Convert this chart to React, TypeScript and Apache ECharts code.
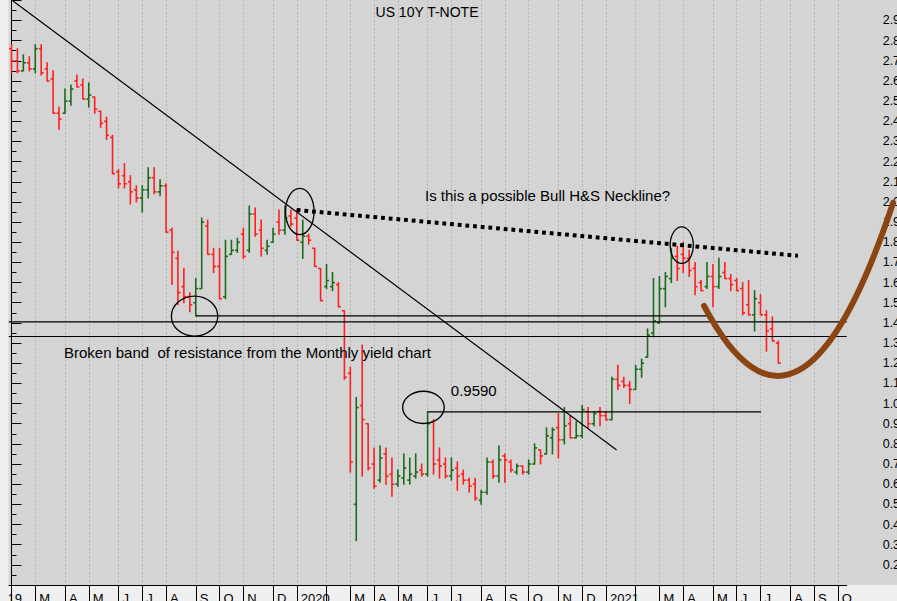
import React, { useEffect, useRef } from "react";
import * as echarts from "echarts";

// ---------------- DATA ----------------
const FIRST_WEEK = "2019-02-01"; // weekly bars, dated by Friday
const WEEK_COUNT = 141; // axis runs to 2021-10-08
const MONTH_INITIALS = ["J", "F", "M", "A", "M", "J", "J", "A", "S", "O", "N", "D"];

const OPEN = [
  2.76, 2.70, 2.65, 2.69, 2.66, 2.76, 2.66, 2.61, 2.44, 2.44,
  2.50, 2.60, 2.58, 2.51, 2.52, 2.45, 2.40, 2.32, 2.15, 2.13,
  2.10, 2.06, 2.02, 2.06, 2.12, 2.05, 2.08, 1.86, 1.72, 1.58,
  1.53, 1.50, 1.57, 1.88, 1.74, 1.68, 1.53, 1.74, 1.76, 1.84,
  1.76, 1.94, 1.86, 1.76, 1.80, 1.90, 1.86, 1.93, 1.92, 1.80,
  1.83, 1.77, 1.67, 1.58, 1.58, 1.59, 1.46, 1.15, 0.50, 0.99,
  0.90, 0.70, 0.62, 0.75, 0.65, 0.60, 0.63, 0.62, 0.64, 0.67,
  0.65, 0.91, 0.72, 0.70, 0.64, 0.68, 0.65, 0.62, 0.60, 0.52,
  0.56, 0.71, 0.64, 0.74, 0.71, 0.66, 0.69, 0.66, 0.70, 0.77,
  0.75, 0.83, 0.88, 0.82, 0.90, 0.83, 0.84, 0.96, 0.90, 0.96,
  0.94, 0.92, 1.12, 1.11, 1.09, 1.07, 1.17, 1.23, 1.35, 1.40,
  1.57, 1.62, 1.73, 1.74, 1.72, 1.67, 1.60, 1.58, 1.63, 1.58,
  1.65, 1.62, 1.61, 1.57, 1.49, 1.44, 1.50, 1.44, 1.37, 1.30,
];
const HIGH = [
  2.78, 2.76, 2.73, 2.72, 2.78, 2.78, 2.69, 2.65, 2.47, 2.56,
  2.58, 2.63, 2.61, 2.59, 2.52, 2.45, 2.42, 2.33, 2.16, 2.19,
  2.13, 2.08, 2.08, 2.17, 2.17, 2.11, 2.09, 1.87, 1.755, 1.67,
  1.55, 1.62, 1.92, 1.91, 1.77, 1.77, 1.81, 1.81, 1.82, 1.87,
  1.98, 1.97, 1.91, 1.81, 1.87, 1.96, 1.98, 1.96, 1.96, 1.91,
  1.84, 1.77, 1.67, 1.69, 1.65, 1.60, 1.46, 1.18, 1.03, 1.29,
  0.90, 0.78, 0.79, 0.78, 0.73, 0.67, 0.75, 0.73, 0.75, 0.70,
  0.959, 0.92, 0.78, 0.73, 0.73, 0.71, 0.67, 0.63, 0.63, 0.57,
  0.73, 0.72, 0.79, 0.75, 0.72, 0.70, 0.69, 0.72, 0.80, 0.77,
  0.88, 0.88, 0.95, 0.98, 0.94, 0.91, 0.99, 0.98, 0.96, 0.98,
  0.96, 1.13, 1.19, 1.13, 1.11, 1.19, 1.22, 1.37, 1.62, 1.63,
  1.65, 1.77, 1.78, 1.80, 1.76, 1.70, 1.61, 1.70, 1.69, 1.72,
  1.70, 1.64, 1.62, 1.60, 1.61, 1.56, 1.54, 1.46, 1.43, 1.31,
];
const LOW = [
  2.64, 2.64, 2.65, 2.65, 2.64, 2.63, 2.60, 2.44, 2.36, 2.44,
  2.48, 2.57, 2.51, 2.47, 2.44, 2.37, 2.31, 2.14, 2.07, 2.07,
  1.99, 2.00, 1.95, 2.02, 2.04, 2.03, 1.85, 1.59, 1.49, 1.50,
  1.455, 1.435, 1.57, 1.74, 1.65, 1.52, 1.52, 1.74, 1.75, 1.72,
  1.75, 1.83, 1.73, 1.74, 1.80, 1.84, 1.84, 1.88, 1.81, 1.72,
  1.79, 1.68, 1.51, 1.57, 1.56, 1.48, 1.12, 0.66, 0.32, 0.64,
  0.67, 0.58, 0.61, 0.60, 0.54, 0.59, 0.60, 0.60, 0.63, 0.64,
  0.64, 0.65, 0.63, 0.63, 0.62, 0.57, 0.60, 0.56, 0.52, 0.50,
  0.55, 0.63, 0.61, 0.61, 0.66, 0.65, 0.65, 0.65, 0.70, 0.70,
  0.75, 0.75, 0.73, 0.80, 0.83, 0.83, 0.83, 0.88, 0.89, 0.89,
  0.92, 0.92, 1.07, 1.08, 1.00, 1.07, 1.13, 1.23, 1.33, 1.40,
  1.48, 1.60, 1.61, 1.65, 1.63, 1.54, 1.56, 1.57, 1.48, 1.57,
  1.62, 1.56, 1.56, 1.44, 1.44, 1.36, 1.44, 1.26, 1.31, 1.20,
];
const CLOSE = [
  2.70, 2.65, 2.69, 2.66, 2.76, 2.64, 2.60, 2.44, 2.41, 2.50,
  2.56, 2.57, 2.51, 2.53, 2.46, 2.39, 2.33, 2.14, 2.09, 2.09,
  2.05, 2.02, 2.06, 2.12, 2.05, 2.08, 1.85, 1.75, 1.55, 1.53,
  1.49, 1.57, 1.90, 1.74, 1.68, 1.52, 1.73, 1.76, 1.80, 1.73,
  1.94, 1.84, 1.77, 1.78, 1.84, 1.86, 1.92, 1.89, 1.81, 1.83,
  1.81, 1.68, 1.51, 1.61, 1.60, 1.48, 1.13, 0.71, 0.98, 0.92,
  0.68, 0.59, 0.73, 0.64, 0.60, 0.64, 0.68, 0.65, 0.66, 0.65,
  0.90, 0.70, 0.69, 0.64, 0.67, 0.64, 0.62, 0.59, 0.53, 0.56,
  0.71, 0.64, 0.72, 0.72, 0.67, 0.69, 0.66, 0.70, 0.78, 0.74,
  0.84, 0.87, 0.82, 0.89, 0.83, 0.84, 0.97, 0.90, 0.95, 0.94,
  0.92, 1.12, 1.09, 1.09, 1.07, 1.17, 1.20, 1.34, 1.41, 1.57,
  1.63, 1.72, 1.67, 1.72, 1.66, 1.58, 1.56, 1.63, 1.58, 1.63,
  1.62, 1.59, 1.56, 1.45, 1.44, 1.52, 1.44, 1.36, 1.31, 1.20,
];

// Y axis range (yield, %)
const Y_MIN = 0.1;
const Y_MAX = 3.0;
const Y_STEP = 0.1;

// ---------------- ANNOTATIONS (week index, yield) ----------------
const TREND_LINE = [[0.26, 2.997], [101.8, 0.77]];
const NECKLINE = [[47.98, 1.96], [132.3, 1.733]];
const SUPPORT_LINE = [[31, 1.435], [117.6, 1.435]];
const BAND_LEVELS = [1.405, 1.3325];
const LEVEL_0959 = [[70, 0.959], [126.1, 0.959]];
const ELLIPSES = [
  [46.1, 2.067, 50.9, 1.838],
  [26.9, 1.533, 34.7, 1.334],
  [65.8, 1.061, 72.8, 0.901],
  [110.8, 1.876, 114.7, 1.695],
];
const BOWL = [[116.5, 1.484], [132.5, 0.591], [148.3, 1.995]];
const NOTES = [
  { text: "Is this a possible Bull H&S Neckline?", at: [69.56, 2.03] },
  { text: "Broken band  of resistance from the Monthly yield chart", at: [8.84, 1.251] },
  { text: "0.9590", at: [73.9, 1.067] },
];
const TITLE = "US 10Y T-NOTE";

// ---------------- STYLES ----------------
const FONT = '"Liberation Sans", Arial, Helvetica, sans-serif';
const RED = "#ff1f1f";
const GREEN = "#1c6b1c";
const BROWN = "#8B4513";

const weekDates: string[] = Array.from({ length: WEEK_COUNT }, (_, i) => {
  const base = Date.parse(FIRST_WEEK + "T00:00:00Z");
  return new Date(base + i * 7 * 86400000).toISOString().slice(0, 10);
});

const isMonthStart = (i: number) => parseInt(weekDates[i].slice(8, 10), 10) <= 7;
const monthLabel = (i: number) => {
  if (!isMonthStart(i)) return "";
  const m = parseInt(weekDates[i].slice(5, 7), 10);
  if (m === 1) return weekDates[i].slice(0, 4);
  if (m === 2) return "";
  return MONTH_INITIALS[m - 1];
};

function buildOption() {
  const bars = OPEN.map((o, i) => [i, o, HIGH[i], LOW[i], CLOSE[i]]);
  const tickInterval = (index: number) => isMonthStart(index);

  const ohlcSeries = {
    type: "custom",
    xAxisIndex: 1,
    yAxisIndex: 0,
    silent: true,
    z: 3,
    encode: { x: 0, y: [1, 2, 3, 4] },
    data: bars,
    renderItem: (params: any, api: any) => {
      const i = api.value(0);
      const o = api.value(1);
      const h = api.value(2);
      const l = api.value(3);
      const c = api.value(4);
      const pH = api.coord([i, h]);
      const pL = api.coord([i, l]);
      const pO = api.coord([i, o]);
      const pC = api.coord([i, c]);
      const half = api.size([1, 0])[0] * 0.42;
      const style = { stroke: c >= o ? GREEN : RED, lineWidth: 1.6, fill: "none" };
      return {
        type: "group",
        children: [
          { type: "line", shape: { x1: pH[0], y1: pH[1] - 0.5, x2: pL[0], y2: pL[1] + 0.5 }, style },
          { type: "line", shape: { x1: pO[0] - half, y1: pO[1], x2: pO[0], y2: pO[1] }, style },
          { type: "line", shape: { x1: pC[0], y1: pC[1], x2: pC[0] + half, y2: pC[1] }, style },
        ],
      };
    },
  };

  const annotationSeries = {
    type: "custom",
    xAxisIndex: 1,
    yAxisIndex: 0,
    silent: true,
    clip: false,
    z: 6,
    encode: { x: 0, y: 1 },
    data: [[0, 1.5]],
    renderItem: (params: any, api: any) => {
      const P = (p: number[]) => api.coord(p);
      const thin = { stroke: "#000", lineWidth: 1.2, fill: "none" };
      const seg = (a: number[], b: number[], style: any) => {
        const A = P(a);
        const B = P(b);
        return { type: "line", shape: { x1: A[0], y1: A[1], x2: B[0], y2: B[1] }, style };
      };
      const children: any[] = [];
      children.push(seg(TREND_LINE[0], TREND_LINE[1], thin));
      children.push(seg(SUPPORT_LINE[0], SUPPORT_LINE[1], thin));
      BAND_LEVELS.forEach((v) => children.push(seg([-0.5, v], [WEEK_COUNT - 0.5, v], thin)));
      children.push(seg(LEVEL_0959[0], LEVEL_0959[1], thin));
      ELLIPSES.forEach((e) => {
        const A = P([e[0], e[1]]);
        const B = P([e[2], e[3]]);
        children.push({
          type: "ellipse",
          shape: { cx: (A[0] + B[0]) / 2, cy: (A[1] + B[1]) / 2, rx: Math.abs(B[0] - A[0]) / 2, ry: Math.abs(B[1] - A[1]) / 2 },
          style: { stroke: "#000", lineWidth: 1.3, fill: "rgba(0,0,0,0)" },
        });
      });
      children.push(
        seg(NECKLINE[0], NECKLINE[1], { stroke: "#000", lineWidth: 4, lineDash: [3.8, 3.9], lineCap: "butt", fill: "none" })
      );
      NOTES.forEach((n) => {
        const p = P(n.at);
        children.push({
          type: "text",
          x: p[0],
          y: p[1],
          style: {
            text: n.text,
            fill: "#000",
            fontSize: 15,
            fontFamily: FONT,
            textAlign: "left",
            align: "left",
            textVerticalAlign: "middle",
            verticalAlign: "middle",
          },
        });
      });
      const b0 = P(BOWL[0]);
      const b1 = P(BOWL[1]);
      const b2 = P(BOWL[2]);
      children.push({
        type: "bezierCurve",
        shape: { x1: b0[0], y1: b0[1], cpx1: b1[0], cpy1: b1[1], x2: b2[0], y2: b2[1] },
        style: { stroke: BROWN, lineWidth: 6, lineCap: "round", fill: "none" },
      });
      return { type: "group", children };
    },
  };

  return {
    animation: false,
    backgroundColor: "#d4d4d4",
    grid: { left: 8.5, right: 50.3, top: 0.3, bottom: 16, containLabel: false, outerBoundsMode: "none" },
    xAxis: [
      {
        type: "category",
        data: weekDates,
        boundaryGap: true,
        axisLine: { show: true, lineStyle: { color: "#000", width: 1 } },
        axisTick: { show: true, alignWithLabel: true, interval: tickInterval, length: 16, lineStyle: { color: "#000", width: 1 } },
        axisLabel: {
          interval: tickInterval,
          formatter: (_v: string, i: number) => monthLabel(i),
          align: "left",
          padding: [0, 0, 0, 4],
          margin: 7,
          color: "#000",
          fontSize: 13,
          fontFamily: FONT,
        },
        splitLine: {
          show: true,
          alignWithLabel: true,
          interval: tickInterval,
          lineStyle: { color: "#b4b4b4", width: 1, type: [2, 2] },
        },
      },
      { type: "value", min: -0.5, max: WEEK_COUNT - 0.5, show: false, splitLine: { show: false } },
    ],
    yAxis: {
      type: "value",
      position: "right",
      min: Y_MIN,
      max: Y_MAX,
      interval: Y_STEP,
      axisLine: { show: true, lineStyle: { color: "#000", width: 1 } },
      axisTick: { show: true, length: 10, lineStyle: { color: "#000", width: 1 } },
      minorTick: { show: true, splitNumber: 2, length: 5, lineStyle: { color: "#000", width: 1 } },
      minorSplitLine: { show: false },
      splitLine: { show: false },
      axisLabel: {
        margin: 36,
        align: "left",
        color: "#000",
        fontSize: 12.5,
        fontFamily: FONT,
        formatter: (v: number) => (v < Y_MIN + 0.05 || v > Y_MAX - 0.05 ? "" : v.toFixed(1)),
      },
    },
    graphic: [
      { type: "rect", z: -1, silent: true, shape: { x: 0, y: 585, width: 897, height: 16 }, style: { fill: "#efefef" } },
      {
        type: "text",
        z: 5,
        silent: true,
        x: 427,
        y: 12,
        style: { text: TITLE, fill: "#000", fontSize: 14, fontFamily: FONT, textAlign: "center", align: "center", textVerticalAlign: "middle", verticalAlign: "middle" },
      },
      {
        type: "text",
        z: 5,
        silent: true,
        x: -7,
        y: 592,
        style: { text: "2019", fill: "#000", fontSize: 13, fontFamily: FONT, textAlign: "left", align: "left", textVerticalAlign: "top", verticalAlign: "top" },
      },
      { type: "rect", z: 20, silent: true, shape: { x: 0, y: 0, width: 8.5, height: 601 }, style: { fill: "#efefef" } },
    ],
    series: [ohlcSeries, annotationSeries],
  };
}

export default function App() {
  const ref = useRef<HTMLDivElement>(null);
  useEffect(() => {
    if (!ref.current) return;
    const chart = echarts.init(ref.current, null, { renderer: "svg" });
    chart.setOption(buildOption() as any);
    return () => chart.dispose();
  }, []);
  return <div ref={ref} style={{ position: "fixed", left: 0, top: 0, width: 897, height: 601 }} />;
}
